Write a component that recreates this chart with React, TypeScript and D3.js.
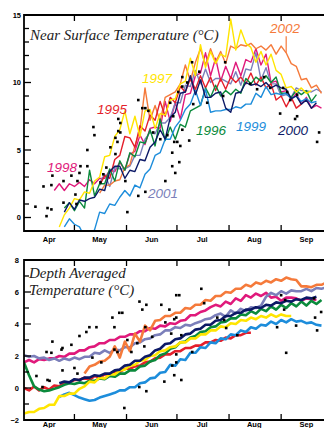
import React from "react";
import * as d3 from "d3";

// one sample every STEP days, counted from 1 April
const STEP = 3;

const years = ["1995", "1996", "1997", "1998", "1999", "2000", "2001", "2002"];
const months = ["Apr", "May", "Jun", "Jul", "Aug", "Sep"];

// near surface temperature (°C)
const surfStart = [45, 24, 21, 18, 24, 24, 45, 45];
const surf1995 = [2.4, 3.1, 2.9, 4.3, 4.6, 6.0, 5.9, 5.2, 6.8, 6.4, 7.6, 7.2, 8.6, 7.5, 8.9, 8.5, 9.7, 9.3, 10.3, 9.5, 10.5, 9.6, 10.4, 9.4, 10.3, 9.5, 10.4, 10.0, 10.4, 9.9, 10.7, 9.8, 10.4, 9.6, 9.9, 8.7, 9.0, 8.2, 8.9, 8.1, 8.4];
const surf1996 = [0.7, 1.1, 0.5, 1.2, 0.7, 3.5, 1.6, 2.5, 2.5, 3.6, 2.7, 4.2, 3.5, 4.8, 4.5, 5.6, 5.5, 6.5, 5.3, 7.3, 5.7, 6.7, 5.8, 6.9, 6.7, 7.9, 8.1, 8.3, 9.6, 8.9, 9.8, 9.0, 9.4, 9.1, 9.5, 9.2, 10.3, 9.9, 10.4, 10.1, 10.5, 10.0, 10.4, 9.2, 9.2, 8.9, 9.4, 9.1, 9.4, 8.6, 9.1];
const surf1997 = [-0.7, 0.2, 0.7, 1.4, 1.3, 1.9, 1.8, 2.7, 3.0, 4.5, 4.6, 6.0, 6.5, 7.9, 6.2, 7.5, 6.0, 7.9, 8.0, 6.6, 7.7, 7.6, 8.7, 8.8, 9.9, 10.1, 11.8, 10.5, 12.8, 11.1, 12.3, 11.4, 12.1, 11.9, 14.7, 12.4, 13.9, 12.9, 12.6, 11.5, 12.3, 11.3, 12.1, 10.9, 10.6, 9.6, 9.7, 9.3, 9.6, 9.2, 9.4];
const surf1998 = [2.0, 2.5, 2.0, 2.5, 2.3, 2.6, 2.3, 2.8, 2.5, 2.9, 2.9, 3.5, 3.4, 4.1, 3.5, 4.7, 4.9, 6.1, 5.4, 6.6, 6.7, 6.6, 8.6, 7.1, 8.5, 7.3, 9.1, 9.2, 10.5, 10.7, 12.2, 10.5, 11.8, 10.1, 11.2, 10.3, 11.5, 10.5, 11.7, 11.5, 12.5, 11.3, 12.1, 10.0, 10.1, 9.3, 9.4, 8.7, 9.2, 8.4, 8.9, 8.1, 8.3, 8.1];
const surf1999 = [-0.7, -0.1, -0.5, -0.7, -1.4, -1.6, -0.9, 0.4, 0.3, 1.0, 0.9, 1.5, 2.0, 1.6, 2.4, 2.2, 3.2, 3.6, 4.6, 4.8, 5.8, 5.8, 6.7, 7.2, 8.0, 8.4, 9.4, 8.3, 9.5, 7.8, 7.9, 7.9, 8.0, 8.0, 8.2, 8.1, 8.4, 8.4, 9.2, 8.9, 9.7, 9.1, 9.2, 9.1, 9.2, 8.8, 9.0, 8.6, 8.8, 8.5, 8.6];
const surf2000 = [0.4, 1.1, 0.6, 1.3, 1.2, 1.4, 1.5, 2.1, 2.0, 3.4, 3.8, 3.8, 2.9, 3.5, 3.4, 4.3, 4.2, 5.2, 5.6, 6.5, 5.8, 7.4, 7.8, 9.2, 9.3, 10.5, 9.1, 10.2, 8.9, 8.9, 9.2, 9.3, 8.1, 7.8, 9.2, 9.3, 10.0, 9.8, 9.9, 9.7, 10.0, 9.6, 9.8, 9.6, 9.5, 8.8, 9.0, 8.4, 8.7, 8.1, 8.5];
const surf2001 = [2.6, 3.2, 2.3, 3.7, 3.6, 3.6, 3.8, 4.6, 4.6, 5.8, 6.3, 6.2, 7.0, 7.0, 7.4, 8.5, 8.5, 9.8, 9.7, 10.9, 9.9, 11.0, 10.0, 10.3, 10.3, 10.1, 9.9, 10.8, 9.8, 11.0, 10.9, 12.2, 10.2, 11.1, 9.9, 9.9, 9.0, 9.1, 8.9, 9.6, 9.4, 9.4, 9.3, 9.5, 9.3];
const surf2002 = [1.8, 2.4, 2.4, 2.7, 2.8, 3.7, 3.9, 5.3, 6.5, 9.6, 7.2, 8.3, 7.1, 8.9, 9.1, 9.3, 9.9, 11.3, 10.1, 11.5, 12.5, 11.3, 12.5, 11.5, 12.3, 11.4, 12.7, 12.5, 12.8, 12.7, 12.9, 12.5, 12.7, 12.4, 12.8, 12.1, 12.7, 12.2, 11.4, 11.2, 10.2, 10.3, 9.6, 9.8, 9.2];

// depth averaged temperature (°C)
const depthStart = [0, 0, 0, 0, 21, 21, 0, 36];
const depth1995 = [0.0, -0.15, 0.1, -0.15, 0.05, -0.1, 0.15, 0.1, 0.35, 0.35, 0.5, 0.5, 0.65, 0.5, 0.75, 0.65, 0.85, 0.85, 1.0, 1.0, 1.2, 1.2, 1.35, 1.4, 1.6, 1.65, 1.85, 1.9, 2.1, 2.1, 2.3, 2.3, 2.5, 2.5, 2.65, 2.65, 2.85, 2.85, 3.0, 2.95, 3.15, 3.1, 3.3, 3.3, 3.45, 3.45];
const depth1996 = [1.6, 0.8, 0.1, -0.1, -0.2, -0.15, -0.05, 0.05, 0.2, 0.3, 0.25, 0.35, 0.3, 0.45, 0.45, 0.6, 0.55, 0.75, 0.7, 0.9, 0.9, 1.1, 1.1, 1.35, 1.4, 1.65, 1.75, 2.05, 2.15, 2.45, 2.55, 2.85, 2.9, 3.15, 3.25, 3.5, 3.55, 3.8, 3.85, 4.1, 4.15, 4.35, 4.35, 4.6, 4.55, 4.8, 4.65, 4.95, 4.8, 5.1, 4.9, 5.2, 5.0, 5.3, 5.1, 5.4, 5.15, 5.45, 5.25, 5.5];
const depth1997 = [-1.6, -1.5, -1.5, -1.3, -1.25, -1.05, -1.05, -0.5, -0.5, -0.35, -0.35, -0.05, 0.1, 0.4, 0.35, 0.65, 0.6, 0.85, 0.85, 1.1, 1.15, 1.4, 1.45, 1.7, 1.75, 2.0, 2.05, 2.3, 2.35, 2.55, 2.6, 2.85, 2.85, 3.1, 3.1, 3.35, 3.35, 3.6, 3.6, 3.85, 3.8, 4.05, 4.0, 4.25, 4.2, 4.4, 4.3, 4.5, 4.4, 4.6, 4.45, 4.6, 4.5, 4.5];
const depth1998 = [1.6, 1.75, 1.6, 1.8, 1.75, 1.85, 1.85, 2.0, 1.95, 2.15, 2.15, 2.35, 2.35, 2.55, 2.6, 2.8, 2.8, 3.0, 3.0, 3.2, 3.2, 3.35, 3.35, 3.55, 3.55, 3.75, 3.7, 3.9, 3.85, 4.05, 4.0, 4.2, 4.25, 4.55, 4.55, 4.75, 4.85, 5.05, 5.2, 5.1, 5.4, 5.25, 5.6, 5.45, 5.8, 5.65, 5.9, 5.75, 5.95, 5.65, 5.7, 5.45, 5.65, 5.65, 5.6, 5.45, 5.6, 5.55, 5.5];
const depth1999 = [-0.55, -0.4, -0.3, -0.45, -0.6, -0.7, -0.8, -0.75, -0.6, -0.5, -0.4, -0.3, -0.15, -0.15, 0.05, 0.05, 0.3, 0.35, 0.6, 0.65, 0.95, 1.0, 1.45, 1.4, 1.8, 1.75, 2.2, 2.2, 2.55, 2.5, 2.85, 2.8, 3.1, 3.05, 3.35, 3.3, 3.6, 3.5, 3.8, 3.7, 3.95, 3.9, 4.15, 4.0, 4.25, 4.1, 4.3, 4.15, 4.2, 4.05, 4.1, 3.95, 3.9];
const depth2000 = [0.3, 0.4, 0.35, 0.55, 0.5, 0.65, 0.65, 0.8, 0.75, 0.9, 0.9, 1.1, 1.15, 1.4, 1.45, 1.7, 1.7, 1.95, 2.05, 2.35, 2.45, 2.75, 2.8, 3.05, 3.1, 3.35, 3.4, 3.65, 3.7, 3.95, 3.95, 4.2, 4.25, 4.5, 4.5, 4.7, 4.7, 4.9, 4.9, 5.05, 5.0, 5.2, 5.15, 5.35, 5.3, 5.45, 5.4, 5.55, 5.5, 5.65, 5.6, 5.7];
const depth2001 = [2.05, 1.95, 2.0, 1.85, 1.9, 1.75, 1.85, 1.7, 1.85, 1.75, 1.9, 1.8, 1.95, 1.95, 2.2, 2.15, 2.35, 2.2, 2.4, 2.35, 2.55, 2.55, 2.8, 2.85, 3.05, 3.1, 3.3, 3.35, 3.6, 3.6, 3.8, 3.75, 3.95, 3.9, 4.05, 4.15, 4.3, 4.35, 4.55, 4.65, 4.45, 4.85, 4.65, 4.95, 4.8, 5.05, 5.0, 5.15, 5.7, 5.95, 5.8, 6.05, 5.9, 6.1, 6.05, 6.05, 6.2, 6.05, 6.25, 6.2, 6.3];
const depth2002 = [0.9, 1.35, 1.45, 1.65, 1.7, 1.95, 2.6, 1.9, 2.9, 2.3, 3.4, 2.9, 3.9, 3.6, 4.2, 4.25, 4.5, 4.5, 4.7, 4.7, 5.0, 4.95, 5.2, 5.2, 5.5, 5.45, 5.75, 5.75, 6.0, 5.95, 6.2, 6.2, 6.45, 6.35, 6.6, 6.5, 6.7, 6.6, 6.8, 6.7, 6.9, 6.8, 6.75, 6.35, 6.35, 6.3, 6.45, 6.45, 6.6];

// single observations [day after 1 April, °C]
const surfDots = [[6.8, 0.8], [13.4, 0.1], [14, 0.7], [16.3, 0.6], [11.6, 2.3], [16.3, 2.4], [16.9, 3.1], [23.5, 2.7], [23.5, 1.1], [28.2, 3.1], [31.8, 2.7], [33, 3.3], [33.6, 3.8], [37.7, 3.8], [37.7, 5.0], [41.9, 6.1], [30.6, 1.7], [31.2, 1.0], [45.5, 2.6], [47.2, 3.2], [49, 3.7], [54.4, 4.7], [51.4, 5.2], [56.1, 6.4], [57.3, 6.3], [55.6, 5.6], [60.3, 2.7], [61.5, 0.4], [68, 1.6], [72.2, 1.9], [84.1, 2.7], [88.2, 4.8], [88.2, 3.8], [90, 3.3], [92.4, 4.1], [93, 5.3], [98.3, 5.7], [89.4, 5.6], [175.6, 6.3], [174.4, 5.6], [41.3, 6.7], [56.1, 7.3], [57.3, 7.0], [68, 8.7], [70.4, 8.1], [72.2, 8.1], [74, 7.9], [54.4, 5.9], [87, 8.5], [91.8, 9.3], [94.2, 9.7], [97.1, 10.0], [88.8, 7.5], [94.2, 6.5], [81.1, 5.8], [85.3, 6.1], [91.2, 5.6], [76.9, 6.3], [100, 11.5], [119.7, 11.5], [118.5, 9.0], [100.7, 8.4], [109, 8.5], [154.2, 9.6], [156.6, 9.3], [158.4, 8.7], [162.5, 9.1], [152.4, 7.7], [162.5, 7.5], [161.3, 7.3], [134.6, 9.9], [138.7, 9.5], [146.5, 9.6], [94.2, 10.4], [104.3, 10.8], [142.9, 10.4]];
const depthDots = [[68.7, 5.4], [72.8, 5.2], [81.7, 5.2], [70.4, 4.9], [52.6, 4.4], [56.7, 4.7], [58.5, 4.7], [53.8, 3.8], [38.9, 3.8], [43.1, 3.8], [37.1, 3.5], [33, 3.25], [28.2, 2.7], [16.9, 2.9], [22.3, 2.4], [13.4, 2.25], [16.3, 2.2], [53.8, 2.4], [61.5, 3.0], [67.4, 2.8], [71.6, 2.6], [55.6, 2.25], [63.9, 2.25], [40.7, 1.9], [46, 1.6], [7.4, 0.75], [22.9, 1.1], [30, 1.25], [31.8, 0.9], [14, 0.5], [15.2, 0.45], [11, 0.06], [83.5, 0.4], [68.6, 0.06], [72.8, -0.2], [59.7, -1.25], [86.5, 4.9], [87.6, 3.4], [88.2, 1.4], [90.6, 5.8], [92.4, 5.8], [105.5, 6.2], [107.2, 5.3], [90.6, 4.4], [115, 4.4], [119.1, 4.25], [126.9, 3.3], [120.3, 3.75], [93.6, 3.3], [90.6, 2.1], [90.6, 1.6], [100.1, 2.25], [89.4, 0.8], [93.6, 0.5], [156, 2.2], [153, 5.8], [154.8, 4.9], [150.6, 3.8], [161.9, 3.9], [174.4, 3.6], [176.8, 4.75], [172.6, 5.6], [22.9, 2.5], [72.2, 3.8], [76.3, 3.2], [84.1, 4.1], [89.4, 4.3], [155.4, 5.5], [173.2, 4.4]];

// where each year name sits in the top panel [day, °C]
const yearLabelAt = [[43.4, 7.7], [102.3, 6.1], [70.2, 9.95], [13.7, 3.35], [126.1, 6.4], [151.1, 6.1], [73.8, 1.45], [146.4, 13.65]];

const surface = [surf1995, surf1996, surf1997, surf1998, surf1999, surf2000, surf2001, surf2002];
const depth = [depth1995, depth1996, depth1997, depth1998, depth1999, depth2000, depth2001, depth2002];

const colors: Record<string, string> = {
  "1995": "#e41f2b",
  "1996": "#0b8a3c",
  "1997": "#ffe500",
  "1998": "#e0197b",
  "1999": "#1d8ddb",
  "2000": "#0c1966",
  "2001": "#7b7fba",
  "2002": "#f57a3b",
};

const surfOrder = ["1998", "2001", "2002", "1995", "1996", "1997", "1999", "2000"];
const depthOrder = ["1998", "2001", "2002", "1995", "1996", "1999", "1997", "2000"];

const sans = "'Liberation Sans', Arial, Helvetica, sans-serif";
const serif = "'Liberation Serif', 'Times New Roman', serif";

const day0 = new Date(2001, 3, 1);
const toDate = (d: number) => new Date(day0.getTime() + d * 864e5);
const LAST_DAY = 178.5;
const LEFT = 24;
const RIGHT = 324;

const x = d3.scaleTime().domain([day0, toDate(LAST_DAY)]).range([LEFT, RIGHT]);
const monthTicks = d3.timeMonth.range(toDate(1), toDate(LAST_DAY));
const monthMids = months.map((_, i) => new Date(2001, 3 + i, 16));

type PanelProps = {
  id: string;
  top: number;
  bottom: number;
  yDomain: [number, number];
  labelEvery: number;
  labelRight: number;
  values: number[][];
  starts: number[];
  order: string[];
  dots: number[][];
  width: number;
  monthBaseline: number;
  extra?: (y: d3.ScaleLinear<number, number>) => React.ReactNode;
};

function Panel(p: PanelProps) {
  const y = d3.scaleLinear().domain(p.yDomain).range([p.bottom, p.top]);
  const yTicks = d3.range(p.yDomain[0], p.yDomain[1] + 1);
  const fmt = d3.format("d");

  return (
    <g>
      <defs>
        <clipPath id={p.id}>
          <rect x={LEFT} y={p.top} width={RIGHT - LEFT} height={p.bottom - p.top} />
        </clipPath>
      </defs>
      <g clipPath={`url(#${p.id})`}>
        {p.order.map((yr) => {
          const k = years.indexOf(yr);
          const start = p.starts[k];
          const line = d3
            .line<number>()
            .x((_, i) => x(toDate(start + i * STEP)))
            .y((v) => y(v));
          return (
            <path
              key={yr}
              d={line(p.values[k]) || ""}
              fill="none"
              stroke={colors[yr]}
              strokeWidth={p.width}
              strokeLinejoin="round"
            />
          );
        })}
        {p.dots.map((d, i) => (
          <rect
            key={i}
            x={x(toDate(d[0])) - 1.3}
            y={y(d[1]) - 1.3}
            width={2.6}
            height={2.6}
            fill="#000"
          />
        ))}
      </g>
      {p.extra && p.extra(y)}
      {/* frame */}
      <line x1={LEFT} x2={RIGHT} y1={p.top} y2={p.top} stroke="#000" strokeWidth={1.8} />
      <line x1={LEFT} x2={RIGHT} y1={p.bottom} y2={p.bottom} stroke="#000" strokeWidth={1.8} />
      <line x1={LEFT} x2={LEFT} y1={p.top - 0.9} y2={p.bottom + 0.9} stroke="#000" strokeWidth={1.8} />
      {yTicks.map((t) => {
        const major = t % p.labelEvery === 0;
        return (
          <g key={t}>
            <line x1={LEFT} x2={LEFT + (major ? 7 : 5)} y1={y(t)} y2={y(t)} stroke="#000" strokeWidth={1.3} />
            {major && (
              <text
                x={p.labelRight}
                y={y(t)}
                dy="0.35em"
                textAnchor="end"
                fontFamily={sans}
                fontWeight="bold"
                fontSize={7.5}
              >
                {fmt(t)}
              </text>
            )}
          </g>
        );
      })}
      {monthTicks.map((m) => (
        <g key={m.getTime()}>
          <line x1={x(m)} x2={x(m)} y1={p.top} y2={p.top + 6} stroke="#000" strokeWidth={1.3} />
          <line x1={x(m)} x2={x(m)} y1={p.bottom} y2={p.bottom - 6} stroke="#000" strokeWidth={1.3} />
        </g>
      ))}
      {months.map((m, i) => (
        <text
          key={m}
          x={x(monthMids[i])}
          y={p.monthBaseline}
          textAnchor="middle"
          fontFamily={sans}
          fontWeight="bold"
          fontSize={7.5}
        >
          {m}
        </text>
      ))}
    </g>
  );
}

export default function App() {
  return (
    <svg
      width={324}
      height={428}
      viewBox="0 0 324 428"
      style={{ position: "absolute", left: 0, top: 0, background: "#fff" }}
    >
      <Panel
        id="clipSurf"
        top={15}
        bottom={231}
        yDomain={[-1, 15]}
        labelEvery={5}
        labelRight={21}
        values={surface}
        starts={surfStart}
        order={surfOrder}
        dots={surfDots}
        width={1.4}
        monthBaseline={242}
        extra={(y) => (
          <g>
            {years.map((yr, k) => (
              <text
                key={yr}
                x={x(toDate(yearLabelAt[k][0]))}
                y={y(yearLabelAt[k][1])}
                fill={colors[yr]}
                fontFamily={sans}
                fontStyle="italic"
                fontSize={13.5}
              >
                {yr}
              </text>
            ))}
            <line
              x1={x(toDate(surfStart[7] + 37 * STEP))}
              x2={x(toDate(surfStart[7] + 37 * STEP))}
              y1={y(yearLabelAt[7][1]) + 3}
              y2={y(surf2002[37])}
              stroke={colors["2002"]}
              strokeWidth={1.2}
            />
          </g>
        )}
      />
      <text x={30} y={40} fontFamily={serif} fontStyle="italic" fontSize={15} fill="#222">
        Near Surface Temperature (°C)
      </text>

      <Panel
        id="clipDepth"
        top={260}
        bottom={420}
        yDomain={[-2, 8]}
        labelEvery={2}
        labelRight={19}
        values={depth}
        starts={depthStart}
        order={depthOrder}
        dots={depthDots}
        width={2.6}
        monthBaseline={427}
      />
      <text x={29} y={278} fontFamily={serif} fontStyle="italic" fontSize={15} fill="#222">
        Depth Averaged
      </text>
      <text x={29} y={295} fontFamily={serif} fontStyle="italic" fontSize={15} fill="#222">
        Temperature (°C)
      </text>
    </svg>
  );
}
